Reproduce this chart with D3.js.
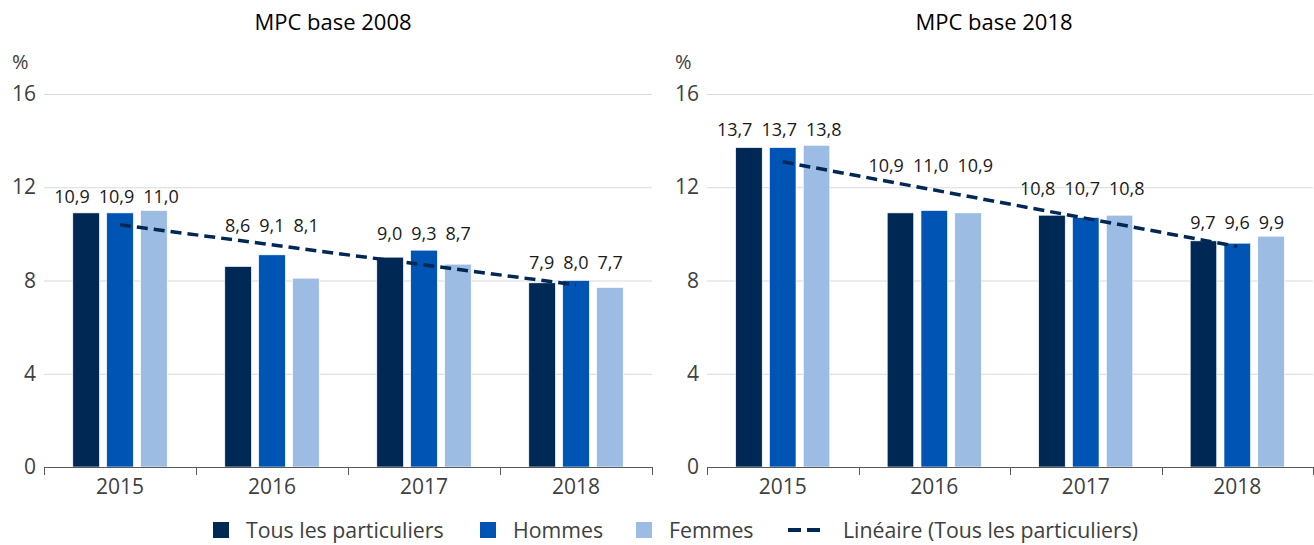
<!DOCTYPE html>
<html><head><meta charset="utf-8">
<script src="https://cdn.jsdelivr.net/npm/d3@7"></script>
<style>body{margin:0;background:#fff}svg{display:block;font-family:"Open Sans",sans-serif}</style>
</head><body><svg id="c" width="1314" height="545"></svg>
<script>
// ---- data ----
const years = ["2015", "2016", "2017", "2018"];
const seriesNames = ["Tous les particuliers", "Hommes", "Femmes"];
const panelTitles = ["MPC base 2008", "MPC base 2018"];
const tous2008 = [10.9, 8.6, 9.0, 7.9];
const hommes2008 = [10.9, 9.1, 9.3, 8.0];
const femmes2008 = [11.0, 8.1, 8.7, 7.7];
const tous2018 = [13.7, 10.9, 10.8, 9.7];
const hommes2018 = [13.7, 11.0, 10.7, 9.6];
const femmes2018 = [13.8, 10.9, 10.8, 9.9];
const yTicks = [0, 4, 8, 12, 16];
const unitLabel = "%";
const trendName = "Linéaire (Tous les particuliers)";

// ---- layout / style ----
const colors = ["#002855", "#0054b4", "#9cbce3"];
const trendColor = "#002855";
const panelsLayout = [
  {x0: 44, x1: 652, titleX: 333, labelLift: [8, 23, 10, 12]},
  {x0: 707, x1: 1313, titleX: 994, labelLift: [9, 39, 20, 7]}
];
const yTop = 94, yBottom = 467;

const panelsData = [
  [tous2008, hommes2008, femmes2008],
  [tous2018, hommes2018, femmes2018]
];

const svg = d3.select("#c");
const fmt = v => v.toFixed(1).replace(".", ",");

panelsLayout.forEach((L, pi) => {
  const data = panelsData[pi];
  const g = svg.append("g");
  const x0 = d3.scaleBand().domain(years).range([L.x0, L.x1]).paddingInner(0).paddingOuter(0);
  const x1 = d3.scaleBand().domain(d3.range(3)).range([0, x0.bandwidth()]).paddingInner(0.216).paddingOuter(0.85);
  const y = d3.scaleLinear().domain([0, 16]).range([yBottom, yTop]);

  // title
  g.append("text").attr("x", L.titleX).attr("y", 30).attr("text-anchor", "middle")
    .attr("font-size", 22).attr("fill", "#000").text(panelTitles[pi]);
  // unit
  g.append("text").attr("x", L.x0 - 32).attr("y", 69).attr("font-size", 20).attr("fill", "#404040").text(unitLabel);

  // gridlines
  g.selectAll(".grid").data(yTicks.filter(t => t > 0)).join("line")
    .attr("x1", L.x0).attr("x2", L.x1).attr("y1", d => y(d) + 0.5).attr("y2", d => y(d) + 0.5)
    .attr("stroke", "#d9d9d9").attr("stroke-width", 1);

  // y axis labels
  const yAxis = d3.axisLeft(y).tickValues(yTicks).tickSize(0).tickPadding(8).tickFormat(d => d);
  const ya = g.append("g").attr("transform", `translate(${L.x0},0)`).call(yAxis);
  ya.select(".domain").remove();
  ya.selectAll("text").attr("font-size", 21).attr("fill", "#404040").attr("font-family", "Open Sans");

  // bars
  years.forEach((yr, i) => {
    const grp = g.append("g").attr("transform", `translate(${x0(yr)},0)`);
    data.forEach((s, si) => {
      grp.append("rect").attr("x", x1(si)).attr("width", x1.bandwidth())
        .attr("y", y(s[i])).attr("height", y(0) - y(s[i]))
        .attr("fill", colors[si]).attr("stroke", "#fff").attr("stroke-width", 0.6);
    });
    const maxV = d3.max(data, s => s[i]);
    const ly = y(maxV) - L.labelLift[i];
    const labels = data.map((s, si) => grp.append("text").attr("y", ly)
        .attr("text-anchor", "middle").attr("font-size", 18).attr("fill", "#1a1a1a").text(fmt(s[i])));
    // spread labels apart when they would collide
    const step = x1.step();
    const maxW = d3.max(labels, t => t.node().getComputedTextLength());
    const spacing = Math.max(step, maxW + 9);
    const shift = (spacing - step) * 0.33;
    const mid = x1(1) + x1.bandwidth() / 2;
    labels.forEach((t, si) => t.attr("x", mid + (si - 1) * spacing - shift));
  });

  // x axis
  const xa = g.append("g").attr("transform", `translate(0,${yBottom})`);
  xa.append("line").attr("x1", L.x0).attr("x2", L.x1).attr("y1", 0.5).attr("y2", 0.5).attr("stroke", "#595959");
  const bounds = years.map(yr => x0(yr)).concat([L.x1]);
  xa.selectAll(".tk").data(bounds).join("line")
    .attr("x1", d => Math.round(d) + 0.5).attr("x2", d => Math.round(d) + 0.5).attr("y1", 0).attr("y2", 8)
    .attr("stroke", "#595959");
  xa.selectAll(".xl").data(years).join("text")
    .attr("x", d => x0(d) + x0.bandwidth() / 2).attr("y", 27).attr("text-anchor", "middle")
    .attr("font-size", 21).attr("fill", "#404040").text(d => d);

  // linear trend of "Tous les particuliers"
  const tous = data[0];
  const xs = d3.range(tous.length);
  const mx = d3.mean(xs), my = d3.mean(tous);
  const slope = d3.sum(xs, k => (k - mx) * (tous[k] - my)) / d3.sum(xs, k => (k - mx) ** 2);
  const icpt = my - slope * mx;
  const trendPts = [0, years.length - 1].map(k => [x0(years[k]) + x0.bandwidth() / 2, y(icpt + slope * k)]);
  g.append("path").attr("d", d3.line()(trendPts)).attr("fill", "none")
    .attr("stroke", trendColor).attr("stroke-width", 3.5).attr("stroke-dasharray", "11,6");
});

// legend
const leg = svg.append("g");
const legItems = [
  {type: "rect", color: colors[0], sx: 213, tx: 246, label: seriesNames[0]},
  {type: "rect", color: colors[1], sx: 480, tx: 513, label: seriesNames[1]},
  {type: "rect", color: colors[2], sx: 636, tx: 669, label: seriesNames[2]},
  {type: "line", color: trendColor, sx: 788, tx: 843, label: trendName}
];
legItems.forEach(it => {
  if (it.type === "rect") {
    leg.append("rect").attr("x", it.sx).attr("y", 522).attr("width", 16).attr("height", 16).attr("fill", it.color);
  } else {
    leg.append("line").attr("x1", it.sx).attr("x2", it.sx + 34).attr("y1", 530).attr("y2", 530)
      .attr("stroke", it.color).attr("stroke-width", 4).attr("stroke-dasharray", "13,6");
  }
  leg.append("text").attr("x", it.tx).attr("y", 538).attr("font-size", 21.3).attr("fill", "#404040").text(it.label);
});
</script></body></html>
